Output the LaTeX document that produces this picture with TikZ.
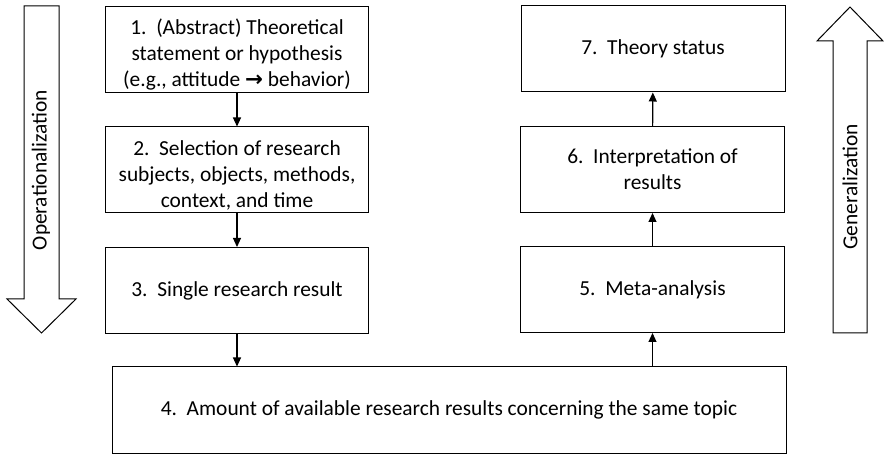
\documentclass[tikz,border=0pt]{standalone}
\usepackage{fontspec}
\setmainfont{Carlito}
\newfontfamily\symfont{DejaVu Sans}
\usetikzlibrary{arrows.meta}
\newcommand{\topgap}{\rule{0pt}{25pt}}
\begin{document}
\begin{tikzpicture}[x=1pt,y=-1pt,
  txt/.style={font=\fontsize{21.4}{26}\selectfont},
  stepbox/.style={draw=black,line width=1pt,minimum width=263pt,minimum height=86pt,inner sep=2pt,align=center,txt},
  conn/.style={line width=1.1pt,-{Triangle[width=8pt,length=9pt]}},
  bigarrow/.style={draw=black,line width=1pt,line join=miter}]
\useasboundingbox (0,0) rectangle (884,454);
\node[stepbox] (b1) at (237,49.5) {\topgap 1.\ \ (Abstract) Theoretical\\statement or hypothesis\\(e.g., attitude {\symfont\bfseries →} behavior)};
\node[stepbox] (b2) at (237,170) {\topgap 2.\ \ Selection of research\\subjects, objects, methods,\\context, and time};
\node[stepbox] (b3) at (237,290.5) {3.\ \ Single research result};
\node[stepbox,minimum width=674pt] (b4) at (449,410) {4.\ \ Amount of available research results concerning the same topic};
\node[stepbox,minimum width=264pt] (b5) at (652.5,289.5) {5.\ \ Meta-analysis};
\node[stepbox,minimum width=264pt] (b6) at (652.5,169.5) {6.\ \ Interpretation of\\results};
\node[stepbox,minimum width=264pt] (b7) at (653,49) {7.\ \ Theory status};
\draw[conn] (b1) -- (b2);
\draw[conn] (b2) -- (b3);
\draw[conn] (b3.south) -- (b3.south |- b4.north);
\draw[conn] (b5.south |- b4.north) -- (b5.south);
\draw[conn] (b5) -- (b6);
\draw[conn] (b6) -- (b7);
% hollow arrows
\draw[bigarrow] (24,6) -- (59,6) -- (59,299) -- (76,299) -- (41.5,333) -- (7,299) -- (24,299) -- cycle;
\draw[bigarrow] (833,333) -- (867,333) -- (867,41) -- (883,41) -- (850,7) -- (817,41) -- (833,41) -- cycle;
\node[txt,rotate=90,inner sep=0pt] (op) at (41,170) {Operationalization};
\node[txt,rotate=90,inner sep=0pt] (ge) at (850,187) {Generalization};
\end{tikzpicture}
\end{document}
